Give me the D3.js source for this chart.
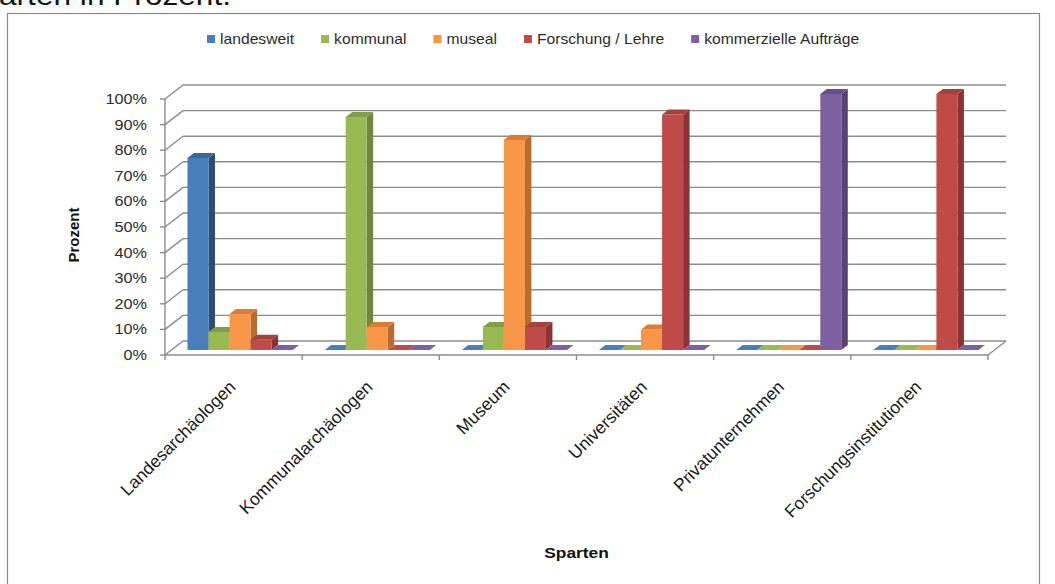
<!DOCTYPE html>
<html>
<head>
<meta charset="utf-8">
<script src="https://cdn.jsdelivr.net/npm/d3@7"></script>
<style>
  html, body { margin: 0; padding: 0; background: #ffffff; }
  svg { display: block; font-family: "Liberation Sans", Arial, sans-serif; }
</style>
</head>
<body>
<svg id="chart" width="1055" height="584"></svg>
<script>
// Anteile der Aufgabenbereiche je Sparte (Prozent)
const categories = ["Landesarchäologen", "Kommunalarchäologen", "Museum", "Universitäten", "Privatunternehmen", "Forschungsinstitutionen"];
const seriesNames = ["landesweit", "kommunal", "museal", "Forschung / Lehre", "kommerzielle Aufträge"];
const landesweit = [75, 0, 0, 0, 0, 0];
const kommunal = [7, 91, 9, 0, 0, 0];
const museal = [14, 9, 82, 8, 0, 0];
const forschungLehre = [4, 0, 9, 92, 0, 100];
const kommerziell = [0, 0, 0, 0, 100, 0];
const yTicks = [0, 10, 20, 30, 40, 50, 60, 70, 80, 90, 100];
const yTickLabels = ["0%", "10%", "20%", "30%", "40%", "50%", "60%", "70%", "80%", "90%", "100%"];

const seriesValues = [landesweit, kommunal, museal, forschungLehre, kommerziell];
const frontColors = ["#4a7ebb", "#98b954", "#f79646", "#be4b48", "#7d60a0"];
const sideColors  = ["#2c4d75", "#6f883d", "#b86c2e", "#8a3533", "#584474"];
const topColors   = ["#3a679c", "#81a045", "#dc7c30", "#a6403d", "#68508a"];

const svg = d3.select("#chart");
const sx = 1.12; // horizontal text stretch

// plot geometry (front plane) and depth offset of the back wall
const left = 165, right = 988, baseY = 355, plotH = 256;
const depthX = 18, depthY = -14;
const zFront = 0.36, zBack = 0.72;

const x = d3.scaleBand().domain(categories).range([left, right]).paddingInner(0).paddingOuter(0);
const xInner = d3.scaleBand().domain(seriesNames).range([0, x.bandwidth()]).paddingInner(0).paddingOuter(0.76);
const y = d3.scaleLinear().domain([0, 100]).range([baseY, baseY - plotH]);

const proj = (px, py, z) => [px + z * depthX, py + z * depthY];
const poly = pts => pts.map(p => p.join(",")).join(" ");

// caption text above the chart frame
svg.append("text")
  .attr("transform", `translate(-1,5) scale(1.13,1)`)
  .attr("font-size", 28).attr("fill", "#111")
  .text("arten in Prozent.");

// chart frame
svg.append("rect")
  .attr("x", 7.5).attr("y", 13.5).attr("width", 1032).attr("height", 600)
  .attr("fill", "#ffffff").attr("stroke", "#8a8a8a").attr("stroke-width", 1.2);

const grid = svg.append("g").attr("stroke", "#8c8c8c").attr("stroke-width", 1.4).attr("fill", "none");
// back wall gridlines + left wall diagonals
yTicks.forEach(t => {
  const [bx1, by1] = proj(left, y(t), 1);
  const [bx2, by2] = proj(right, y(t), 1);
  grid.append("line").attr("x1", bx1).attr("y1", by1).attr("x2", bx2).attr("y2", by2);
  grid.append("line").attr("x1", left).attr("y1", y(t)).attr("x2", bx1).attr("y2", by1);
});
// floor right edge and front edge
{
  const [bx, by] = proj(right, y(0), 1);
  grid.append("line").attr("x1", right).attr("y1", y(0)).attr("x2", bx).attr("y2", by);
  grid.append("line").attr("x1", left).attr("y1", y(0)).attr("x2", right).attr("y2", y(0));
}
// value axis with ticks
grid.append("line").attr("x1", left).attr("y1", y(0)).attr("x2", left).attr("y2", y(100));
yTicks.forEach(t => {
  grid.append("line").attr("x1", left - 5).attr("y1", y(t)).attr("x2", left).attr("y2", y(t));
});
// category axis ticks
const bounds = categories.map(c => x(c)).concat([right]);
bounds.forEach(b => {
  grid.append("line").attr("x1", b).attr("y1", baseY).attr("x2", b).attr("y2", baseY + 5);
});

// y tick labels
svg.append("g").selectAll("text").data(yTicks).join("text")
  .attr("transform", d => `translate(${left - 18},${y(d) + 5}) scale(${sx},1)`)
  .attr("text-anchor", "end").attr("font-size", 14.5).attr("fill", "#2b2b2b")
  .text((d, i) => yTickLabels[i]);

// 3D bars
const bars = svg.append("g");
categories.forEach((cat, ci) => {
  seriesNames.forEach((s, si) => {
    const v = seriesValues[si][ci];
    const xl = x(cat) + xInner(s);
    const xr = xl + xInner.bandwidth();
    const yt = y(v), yb = y(0);
    const fl = proj(xl, yb, zFront), fr = proj(xr, yb, zFront);
    const tl = proj(xl, yt, zFront), tr = proj(xr, yt, zFront);
    const tlb = proj(xl, yt, zBack), trb = proj(xr, yt, zBack), brb = proj(xr, yb, zBack);
    if (v > 0) {
      bars.append("polygon").attr("points", poly([fr, tr, trb, brb])).attr("fill", sideColors[si]);
      bars.append("polygon").attr("points", poly([fl, fr, tr, tl])).attr("fill", frontColors[si]);
    }
    bars.append("polygon").attr("points", poly([tl, tr, trb, tlb])).attr("fill", v > 0 ? topColors[si] : frontColors[si]);
  });
});

// category labels
svg.append("g").selectAll("text").data(categories).join("text")
  .attr("transform", d => `translate(${x(d) + x.bandwidth() / 2 + 3},${baseY + 33}) rotate(-45)`)
  .attr("text-anchor", "end").attr("font-size", 17.5).attr("fill", "#1a1a1a")
  .text(d => d);

// axis titles
svg.append("text")
  .attr("transform", `translate(${(left + right) / 2},558) scale(${sx},1)`)
  .attr("text-anchor", "middle").attr("font-size", 15.5).attr("font-weight", "bold").attr("fill", "#111")
  .text("Sparten");
svg.append("text")
  .attr("transform", `translate(79,235) rotate(-90)`)
  .attr("text-anchor", "middle").attr("font-size", 15).attr("font-weight", "bold").attr("fill", "#111")
  .text("Prozent");

// legend
const legend = svg.append("g");
let lx = 207;
seriesNames.forEach((s, i) => {
  legend.append("rect").attr("x", lx).attr("y", 35).attr("width", 8).attr("height", 8).attr("fill", frontColors[i]);
  const t = legend.append("text")
    .attr("transform", `translate(${lx + 13},44) scale(${sx},1)`)
    .attr("font-size", 14).attr("fill", "#2b2b2b").text(s);
  lx += 13 + t.node().getComputedTextLength() * sx + 27;
});
</script>
</body>
</html>
